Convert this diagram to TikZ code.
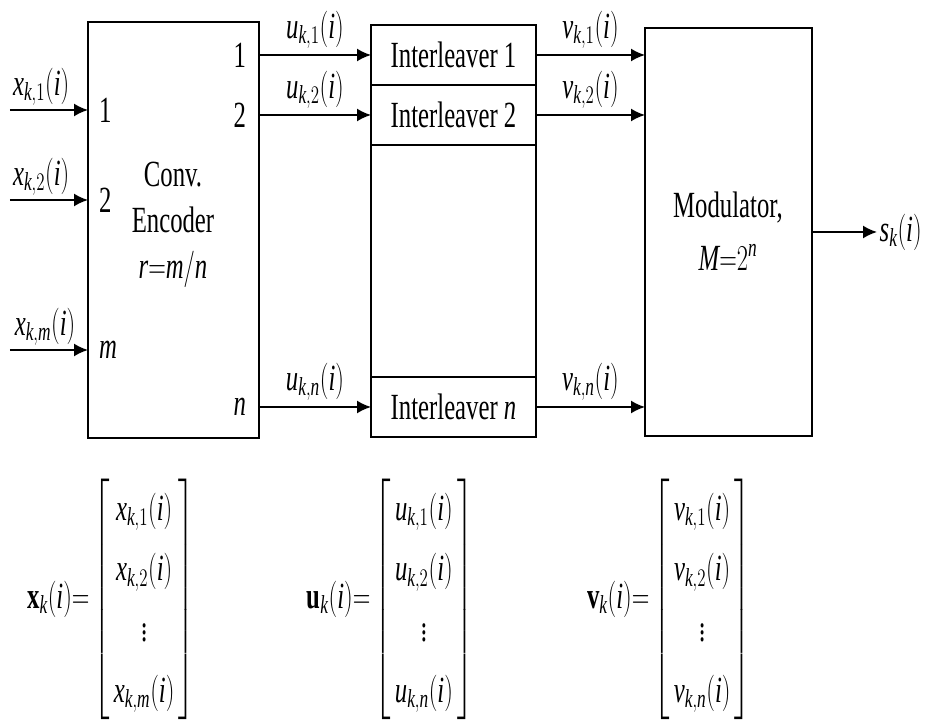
\documentclass[tikz,border=0pt]{standalone}
\usepackage{amsmath}
\usepackage{fontspec}
\setmainfont{Liberation Serif}
\usepackage{graphicx}
\usetikzlibrary{arrows.meta,positioning,calc}
\newcommand{\sqz}[1]{\scalebox{0.67}[1]{#1}}
\newcommand{\mi}[1]{\mathit{#1}}
% signal x_{k,j}(i)
\newcommand{\sig}[2]{\mi{#1}_{\mi{k},#2}(\mi{i})}
% padded matrix entry
\newcommand{\ent}[1]{\,#1\,}
\tikzset{
  block/.style={draw,line width=1pt,outer sep=0pt,inner sep=0pt},
  arr/.style={-{Latex[length=2.8mm,width=2.6mm]},line width=1pt},
  lbl/.style={inner sep=1pt},
  port/.style={inner sep=1pt},
}

\begin{document}
\begin{tikzpicture}[font=\fontsize{21}{25}\selectfont]
  \useasboundingbox (0,0) rectangle (18.62,14.4);
  % blocks
  \node[block,minimum width=3.42cm,minimum height=8.32cm] (enc) at (3.47,9.8) {};
  \node[lbl] (enctxt) at (3.46,9.94) {\renewcommand{\arraystretch}{1.05}\sqz{\begin{tabular}{@{}c@{}}Conv.\\Encoder\\$\mi{r}{=}\mi{m}/\mi{n}$\end{tabular}}};
  \node[block,minimum width=3.3cm,minimum height=1.2cm] (il1) at (9.07,13.3) {\sqz{Interleaver 1}};
  \node[block,minimum width=3.3cm,minimum height=1.2cm,below=0pt of il1] (il2) {\sqz{Interleaver 2}};
  \node[block,minimum width=3.3cm,minimum height=4.64cm,below=0pt of il2] (ilx) {};
  \node[block,minimum width=3.3cm,minimum height=1.2cm,below=0pt of ilx] (iln) {\sqz{Interleaver \textit{n}}};
  \node[block,minimum width=3.34cm,minimum height=8.16cm] (mod) at (14.57,9.76) {};
  \node[lbl] (modtxt) at (14.56,9.7) {\sqz{\begin{tabular}{@{}c@{}}Modulator,\\[5pt]$\mi{M}{=}2^{\mi{n}}$\end{tabular}}};

  % inputs
  \coordinate (in1) at (0.2,12.2);
  \coordinate (in2) at (0.2,10.4);
  \coordinate (inm) at (0.2,7.4);
  \draw[arr] (in1) -- node[lbl,pos=0.4,above=1pt] (lx1) {\sqz{$\sig{x}{1}$}} (in1 -| enc.west);
  \draw[arr] (in2) -- node[lbl,pos=0.4,above=1pt] (lx2) {\sqz{$\sig{x}{2}$}} (in2 -| enc.west);
  \draw[arr] (inm) -- node[lbl,pos=0.45,above=1pt] (lxm) {\sqz{$\sig{x}{\mi{m}}$}} (inm -| enc.west);
  \node[port,right=0.18cm] (pi1) at (in1 -| enc.west) {\sqz{1}};
  \node[port,right=0.18cm] (pi2) at (in2 -| enc.west) {\sqz{2}};
  \node[port,right=0.18cm] (pim) at (inm -| enc.west) {\sqz{\textit{m}}};

  % encoder -> interleavers
  \draw[arr] (enc.east |- il1.west) -- node[lbl,above=2pt] (lu1) {\sqz{$\sig{u}{1}$}} (il1.west);
  \draw[arr] (enc.east |- il2.west) -- node[lbl,above=2pt] (lu2) {\sqz{$\sig{u}{2}$}} (il2.west);
  \draw[arr] (enc.east |- iln.west) -- node[lbl,above=2pt] (lun) {\sqz{$\sig{u}{\mi{n}}$}} (iln.west);
  \node[port,left=0.22cm] (po1) at (enc.east |- il1.west) {\sqz{1}};
  \node[port,left=0.22cm] (po2) at (enc.east |- il2.west) {\sqz{2}};
  \node[port,left=0.22cm] (pon) at (enc.east |- iln.west) {\sqz{\textit{n}}};

  % interleavers -> modulator
  \draw[arr] (il1.east) -- node[lbl,above=2pt] (lv1) {\sqz{$\sig{v}{1}$}} (il1.east -| mod.west);
  \draw[arr] (il2.east) -- node[lbl,above=2pt] (lv2) {\sqz{$\sig{v}{2}$}} (il2.east -| mod.west);
  \draw[arr] (iln.east) -- node[lbl,above=2pt] (lvn) {\sqz{$\sig{v}{\mi{n}}$}} (iln.east -| mod.west);

  % output
  \coordinate (sout) at (17.54,9.76);
  \draw[arr] (mod.east) -- (sout) node[lbl,right=0pt] (ls) {\sqz{$\mi{s}_{\mi{k}}(\mi{i})$}};

  % vectors
  \node[lbl] (xvec) at (2.22,2.42) {\renewcommand{\arraystretch}{1.38}\sqz{$\mathbf{x}_{\mi{k}}(\mi{i}){=}\begin{bmatrix}\ent{\sig{x}{1}}\\\ent{\sig{x}{2}}\\\vdots\\\ent{\sig{x}{\mi{m}}}\end{bmatrix}$}};
  \node[lbl] (uvec) at (7.8,2.42) {\renewcommand{\arraystretch}{1.38}\sqz{$\mathbf{u}_{\mi{k}}(\mi{i}){=}\begin{bmatrix}\ent{\sig{u}{1}}\\\ent{\sig{u}{2}}\\\vdots\\\ent{\sig{u}{\mi{n}}}\end{bmatrix}$}};
  \node[lbl] (vvec) at (13.38,2.42) {\renewcommand{\arraystretch}{1.38}\sqz{$\mathbf{v}_{\mi{k}}(\mi{i}){=}\begin{bmatrix}\ent{\sig{v}{1}}\\\ent{\sig{v}{2}}\\\vdots\\\ent{\sig{v}{\mi{n}}}\end{bmatrix}$}};
\end{tikzpicture}
\end{document}
